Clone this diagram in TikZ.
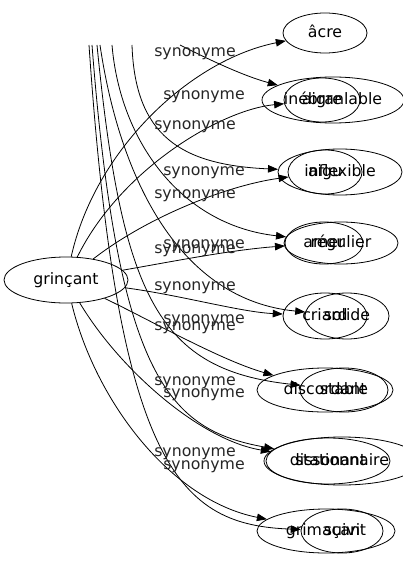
\documentclass[tikz,border=0pt]{standalone}
\usepackage{fontspec}
\setmainfont{DejaVu Sans}
\usetikzlibrary{shapes.geometric,arrows.meta}
\begin{document}
\begin{tikzpicture}[x=1bp,y=-1bp,
  every node/.style={font=\fontsize{15.8}{18}\selectfont},
  nd/.style={draw,ellipse,inner sep=0pt,line width=0.8bp,text height=8.7bp,text depth=0pt},
  lab/.style={anchor=base,inner sep=0pt,text=black!85},
  edge/.style={draw,line width=0.8bp,-{Triangle[length=10bp,width=7.5bp]}}]
\useasboundingbox (0,0) rectangle (402,563);
% nodes
\node[nd,minimum width=124bp,minimum height=46bp] (grincant) at (66,280) {grinçant};
\node[nd,minimum width=84bp,minimum height=40bp] (acre) at (325,33) {âcre};
\node[nd,minimum width=76bp,minimum height=44bp] (aigre) at (322,100) {aigre};
\node[nd,minimum width=142bp,minimum height=46bp] (ineb) at (333,100) {inébranlable};
\node[nd,minimum width=74bp,minimum height=44bp] (aigu) at (325,172) {aigu};
\node[nd,minimum width=124bp,minimum height=46bp] (infl) at (340,172) {inflexible};
\node[nd,minimum width=78bp,minimum height=42bp] (amer) at (324,243) {amer};
\node[nd,minimum width=114bp,minimum height=42bp] (regu) at (341,243) {régulier};
\node[nd,minimum width=84bp,minimum height=46bp] (criard) at (325,316) {criard};
\node[nd,minimum width=84bp,minimum height=46bp] (solide) at (347,316) {solide};
\node[nd,minimum width=136bp,minimum height=44bp] (disco) at (325,390) {discordant};
\node[nd,minimum width=88bp,minimum height=44bp] (stable) at (344,390) {stable};
\node[nd,minimum width=124bp,minimum height=46bp] (disso) at (328,461) {dissonant};
\node[nd,minimum width=156bp,minimum height=48bp] (stat) at (342,461) {stationnaire};
\node[nd,minimum width=138bp,minimum height=44bp] (grim) at (326,531) {grimaçant};
\node[nd,minimum width=82bp,minimum height=44bp] (suivi) at (342,531) {suivi};
% free ends of the edges coming from above
\coordinate (h1) at (180,45);
\coordinate (h2) at (132,45);
\coordinate (h3) at (112,45);
\coordinate (h4) at (100,45);
\coordinate (h5) at (97,45);
\coordinate (h6) at (92,45);
\coordinate (h7) at (89,45);
% edges from grinçant
\path[edge] (grincant) .. controls (95,150) and (190,60) .. (acre);
\path[edge] (grincant) .. controls (120,170) and (220,110) .. (aigre);
\path[edge] (grincant) .. controls (150,215) and (230,185) .. (aigu);
\path[edge] (grincant) .. controls (170,262) and (230,250) .. (amer);
\path[edge] (grincant) .. controls (180,295) and (240,312) .. (criard);
\path[edge] (grincant) .. controls (150,320) and (220,360) .. (disco);
\path[edge] (grincant) .. controls (120,370) and (200,440) .. (disso);
\path[edge] (grincant) .. controls (95,400) and (170,500) .. (grim);
% edges from above
\path[edge] (h1) .. controls (200,55) and (240,75) .. (ineb);
\path[edge] (h2) .. controls (135,135) and (180,165) .. (infl);
\path[edge] (h3) .. controls (120,140) and (180,225) .. (regu);
\path[edge] (h4) .. controls (120,180) and (180,300) .. (solide);
\path[edge] (h5) .. controls (122,300) and (160,370) .. (stable);
\path[edge] (h6) .. controls (118,380) and (170,430) .. (stat);
\path[edge] (h7) .. controls (118,470) and (180,525) .. (suivi);
% labels
\node[lab] (l1) at (195,57) {synonyme};
\node[lab] (l2) at (204,100) {synonyme};
\node[lab] (l3) at (195,130) {synonyme};
\node[lab] (l4) at (204,175) {synonyme};
\node[lab] (l5) at (195,198) {synonyme};
\node[lab] (l6) at (204,248) {synonyme};
\node[lab] (l7) at (195,253) {synonyme};
\node[lab] (l8) at (195,290) {synonyme};
\node[lab] (l9) at (204,323) {synonyme};
\node[lab] (l10) at (195,330) {synonyme};
\node[lab] (l11) at (195,385) {synonyme};
\node[lab] (l12) at (204,397) {synonyme};
\node[lab] (l13) at (195,456) {synonyme};
\node[lab] (l14) at (204,469) {synonyme};
\end{tikzpicture}
\end{document}
